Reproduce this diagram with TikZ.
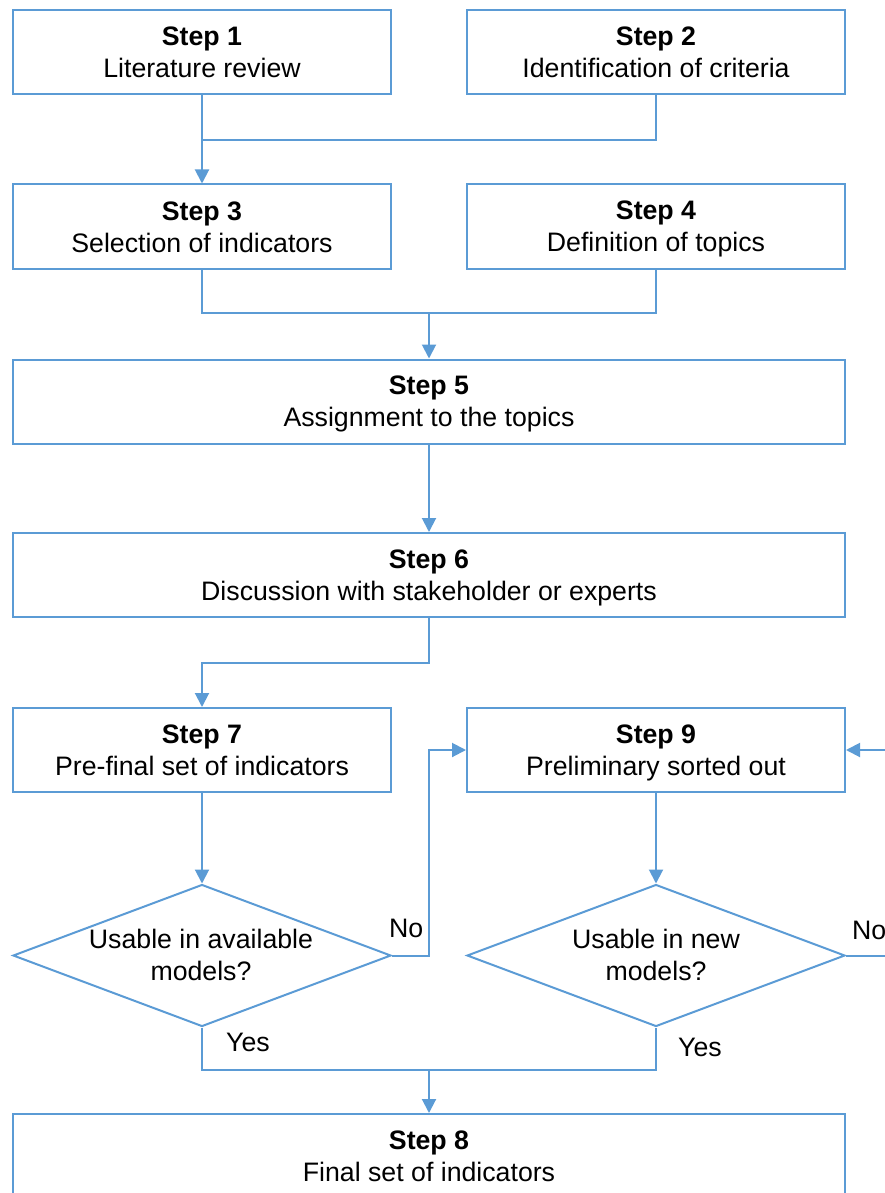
\documentclass[tikz,border=0pt]{standalone}
\usepackage{fontspec}
\setmainfont{Liberation Sans}
\usetikzlibrary{arrows.meta,shapes.geometric}
\definecolor{lineblue}{HTML}{5B9BD5}
\newcommand\lstrut{\rule[-5pt]{0pt}{29pt}}
\begin{document}
\begin{tikzpicture}[x=1pt,y=-1pt,
  every node/.style={font=\fontsize{26.7}{32}\selectfont, text=black},
  stepbox/.style={draw=lineblue, line width=2pt, minimum width=378pt, minimum height=84pt, inner sep=0pt, align=center},
  widebox/.style={stepbox, minimum width=832pt},
  decbox/.style={diamond, draw=lineblue, line width=2pt, minimum width=378pt, minimum height=142pt, inner sep=0pt},
  dtext/.style={align=center, inner sep=0pt},
  lab/.style={inner sep=0pt},
  conn/.style={draw=lineblue, line width=2pt, line join=miter},
  arr/.style={conn, -{Triangle[length=14pt,width=14pt]}}]
\useasboundingbox (0,0) rectangle (885,1193);
\clip (0,0) rectangle (885,1193);
\node[stepbox] (s1) at (202,52.5) {\lstrut\textbf{Step 1}\\\lstrut Literature review};
\node[stepbox] (s2) at (656,52.5) {\lstrut\textbf{Step 2}\\\lstrut Identification of criteria};
\node[stepbox] (s3) at (202,226.5) {\lstrut\textbf{Step 3}\\\lstrut Selection of indicators};
\node[stepbox] (s4) at (656,226.5) {\lstrut\textbf{Step 4}\\\lstrut Definition of topics};
\node[widebox] (s5) at (429,401.5) {\lstrut\textbf{Step 5}\\\lstrut Assignment to the topics};
\node[widebox] (s6) at (429,575) {\lstrut\textbf{Step 6}\\\lstrut Discussion with stakeholder or experts};
\node[stepbox] (s7) at (202,750) {\lstrut\textbf{Step 7}\\\lstrut Pre-final set of indicators};
\node[stepbox] (s9) at (656,750) {\lstrut\textbf{Step 9}\\\lstrut Preliminary sorted out};
\node[decbox] (d1) at (202,955.5) {};
\node[dtext] (d1t) at (201,955) {\lstrut Usable in available\\\lstrut models?};
\node[decbox] (d2) at (656,955.5) {};
\node[dtext] (d2t) at (656,955) {\lstrut Usable in new\\\lstrut models?};
\node[widebox] (s8) at (429,1156) {\lstrut\textbf{Step 8}\\\lstrut Final set of indicators};
\node[lab, anchor=base west] (no1) at (389,937) {No};
\node[lab, anchor=base west] (no2) at (852,939) {No};
\node[lab, anchor=base west] (yes1) at (226,1051) {Yes};
\node[lab, anchor=base west] (yes2) at (678,1056) {Yes};
\coordinate (j1) at (202,140);
\coordinate (j2) at (429,313);
\coordinate (j3) at (429,663);
\coordinate (j4) at (429,955.5);
\coordinate (j5) at (429,1070);
\coordinate (r9) at (900,750);
\coordinate (r2o) at (900,955.5);
\draw[conn] (s2.south) |- (j1);
\draw[arr] (s1.south) -- (s3.north);
\draw[conn] (s3.south) |- (j2) -| (s4.south);
\draw[arr] (j2) -- (s5.north);
\draw[arr] (s5.south) -- (s6.north);
\draw[arr] (s6.south) -- (j3) -| (s7.north);
\draw[arr] (s7.south) -- (d1.north);
\draw[arr] (d1.east) -- (j4) |- (s9.west);
\draw[arr] (s9.south) -- (d2.north);
\draw[arr] (r9) -- (s9.east);
\draw[conn] (d2.east) -- (r2o);
\draw[conn] (d1.south) |- (j5) -| (d2.south);
\draw[arr] (j5) -- (s8.north);
\end{tikzpicture}
\end{document}
